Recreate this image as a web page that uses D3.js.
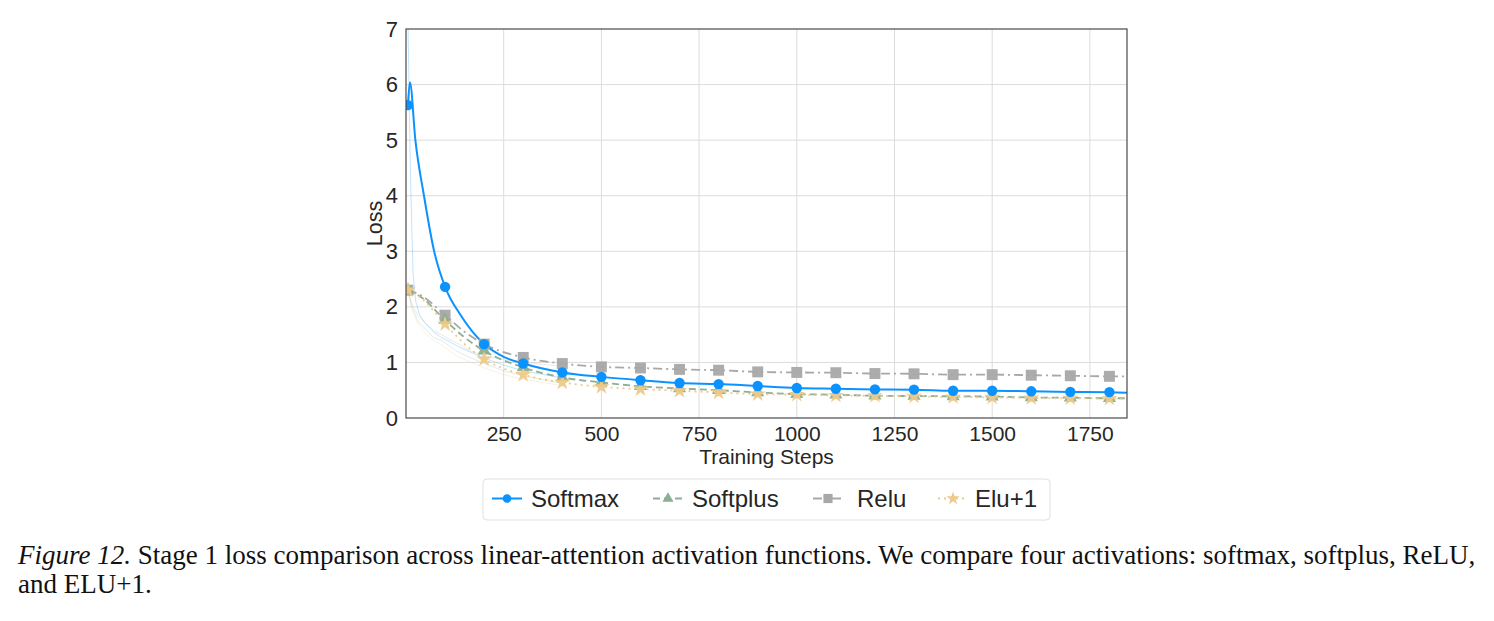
<!DOCTYPE html>
<html><head><meta charset="utf-8">
<script src="https://cdn.jsdelivr.net/npm/d3@7"></script>
<style>body{margin:0;background:#fff;} svg{display:block;}</style>
</head><body>
<svg id="c" width="1494" height="621"></svg>
<script>
// ---- data ----
const seriesNames = ["Softmax", "Softplus", "Relu", "Elu+1"];
const markerSteps = [5, 100, 200, 300, 400, 500, 600, 700, 800, 900, 1000, 1100, 1200, 1300, 1400, 1500, 1600, 1700, 1800];
// smoothed curves: steps and values
const softmaxSteps = [5, 10, 24, 46, 72, 100, 140, 200, 250, 300, 400, 500, 600, 700, 800, 900, 1000, 1100, 1200, 1300, 1400, 1500, 1600, 1700, 1800, 1845];
const softmaxVals  = [5.63, 6.04, 5.0, 4.0, 3.0, 2.36, 1.85, 1.33, 1.1, 0.98, 0.82, 0.74, 0.68, 0.63, 0.61, 0.575, 0.54, 0.527, 0.515, 0.51, 0.49, 0.49, 0.48, 0.47, 0.465, 0.455];
const curveSteps = [5, 40, 100, 150, 200, 300, 400, 500, 600, 700, 800, 900, 1000, 1100, 1200, 1300, 1400, 1500, 1600, 1700, 1800, 1845];
const softplusVals = [2.3, 2.17, 1.76, 1.45, 1.21, 0.91, 0.73, 0.64, 0.57, 0.53, 0.50, 0.46, 0.43, 0.42, 0.40, 0.395, 0.39, 0.385, 0.37, 0.365, 0.355, 0.355];
const reluVals     = [2.3, 2.2, 1.85, 1.55, 1.33, 1.09, 0.98, 0.92, 0.90, 0.875, 0.86, 0.83, 0.82, 0.815, 0.80, 0.795, 0.78, 0.78, 0.77, 0.76, 0.75, 0.75];
const eluVals      = [2.3, 2.15, 1.69, 1.33, 1.06, 0.78, 0.64, 0.56, 0.52, 0.49, 0.46, 0.43, 0.42, 0.405, 0.40, 0.39, 0.378, 0.37, 0.36, 0.355, 0.35, 0.35];
// faint raw curves (early part visible)
const rawSoftmaxSteps = [2, 5, 8, 12, 18, 25, 35, 50, 70, 90, 110, 130, 160, 200, 250, 300, 400];
const rawSoftmaxVals  = [7.6, 7.2, 5.8, 4.2, 2.6, 2.1, 1.85, 1.7, 1.55, 1.45, 1.38, 1.3, 1.2, 1.08, 0.95, 0.85, 0.72];
const rawSteps = [5, 15, 30, 50, 70, 90, 110, 130, 160, 200, 250, 300, 400];
const rawSoftplus = [2.3, 2.0, 1.75, 1.6, 1.45, 1.4, 1.3, 1.2, 1.1, 0.98, 0.85, 0.76, 0.62];
const rawRelu     = [2.3, 2.05, 1.85, 1.7, 1.58, 1.5, 1.42, 1.35, 1.22, 1.12, 1.05, 1.0, 0.93];
const rawElu      = [2.3, 1.95, 1.7, 1.52, 1.4, 1.32, 1.22, 1.12, 1.02, 0.9, 0.78, 0.7, 0.58];
const xTicks = [250, 500, 750, 1000, 1250, 1500, 1750];
const yTicks = [0, 1, 2, 3, 4, 5, 6, 7];
const colors = ["#0A92FF", "#8AAF95", "#A8A8A8", "#EEC98A"];

// ---- layout ----
const svg = d3.select("#c");
const L = 406, R = 1127, T = 29, B = 418;
const x = d3.scaleLinear().domain([0, 1845]).range([L, R]);
const y = d3.scaleLinear().domain([0, 7]).range([B, T]);
const font = "'Liberation Sans', Arial, sans-serif";

svg.append("defs").append("clipPath").attr("id", "clip")
  .append("rect").attr("x", L).attr("y", T).attr("width", R - L).attr("height", B - T);

// grid
const g = svg.append("g");
g.selectAll(".vg").data(xTicks).enter().append("line")
  .attr("x1", d => x(d)).attr("x2", d => x(d)).attr("y1", T).attr("y2", B)
  .attr("stroke", "#dcdcdc").attr("stroke-width", 1);
g.selectAll(".hg").data(yTicks.slice(1, -1)).enter().append("line")
  .attr("x1", L).attr("x2", R).attr("y1", d => y(d)).attr("y2", d => y(d))
  .attr("stroke", "#dcdcdc").attr("stroke-width", 1);

// axes (labels only)
const xAxis = svg.append("g").attr("transform", `translate(0,${B})`)
  .call(d3.axisBottom(x).tickValues(xTicks).tickSize(0).tickPadding(8).tickFormat(d3.format("d")));
xAxis.select(".domain").remove();
xAxis.selectAll("text").attr("font-family", font).attr("font-size", 21).attr("fill", "#262626");
const yAxis = svg.append("g").attr("transform", `translate(${L},0)`)
  .call(d3.axisLeft(y).tickValues(yTicks).tickSize(0).tickPadding(8).tickFormat(d3.format("d")));
yAxis.select(".domain").remove();
yAxis.selectAll("text").attr("font-family", font).attr("font-size", 22).attr("fill", "#262626");

svg.append("text").attr("x", (L + R) / 2).attr("y", 464).attr("text-anchor", "middle")
  .attr("font-family", font).attr("font-size", 21).attr("fill", "#262626").text("Training Steps");
svg.append("text").attr("transform", `translate(382,${(T + B) / 2}) rotate(-90)`).attr("text-anchor", "middle")
  .attr("font-family", font).attr("font-size", 21.5).attr("fill", "#262626").text("Loss");

// lines
const plot = svg.append("g").attr("clip-path", "url(#clip)");
const line = d3.line().x(d => x(d[0])).y(d => y(d[1])).curve(d3.curveMonotoneX);
const rawLine = d3.line().x(d => x(d[0])).y(d => y(d[1])).curve(d3.curveLinear);

const raws = [
  d3.zip(rawSoftmaxSteps, rawSoftmaxVals),
  d3.zip(rawSteps, rawSoftplus),
  d3.zip(rawSteps, rawRelu),
  d3.zip(rawSteps, rawElu)
];
raws.forEach((r, i) => {
  plot.append("path").attr("d", rawLine(r)).attr("fill", "none")
    .attr("stroke", colors[i]).attr("stroke-width", 1).attr("stroke-opacity", 0.25);
});

const curves = [
  d3.zip(softmaxSteps, softmaxVals),
  d3.zip(curveSteps, softplusVals),
  d3.zip(curveSteps, reluVals),
  d3.zip(curveSteps, eluVals)
];
const dashes = [null, "7,4", "9,4,2,4", "2,4"];
const order = [2, 1, 3, 0];
order.forEach(i => {
  plot.append("path").attr("d", line(curves[i])).attr("fill", "none")
    .attr("stroke", colors[i]).attr("stroke-width", i === 0 ? 2 : 1.8)
    .attr("stroke-dasharray", dashes[i]);
});

// markers
const symbols = [d3.symbolCircle, d3.symbolTriangle, d3.symbolSquare, d3.symbolStar];
const sizes = [85, 75, 120, 80];
function valAt(i, s) {
  const c = curves[i];
  const idx = c.findIndex(p => p[0] === s);
  return idx >= 0 ? c[idx][1] : null;
}
order.forEach(i => {
  const pts = markerSteps.map(s => [s, valAt(i, s)]).filter(p => p[1] !== null);
  plot.selectAll(null).data(pts).enter().append("path")
    .attr("d", d3.symbol().type(symbols[i]).size(sizes[i]))
    .attr("transform", d => `translate(${x(d[0])},${y(d[1])})`)
    .attr("fill", colors[i]).attr("fill-opacity", i === 0 ? 1 : 0.95);
});

// frame
svg.append("rect").attr("x", L).attr("y", T).attr("width", R - L).attr("height", B - T)
  .attr("fill", "none").attr("stroke", "#4a4a4a").attr("stroke-width", 1.2);

// legend
const leg = svg.append("g");
leg.append("rect").attr("x", 483).attr("y", 479).attr("width", 567).attr("height", 41).attr("rx", 4)
  .attr("fill", "#fff").attr("stroke", "#e0e0e0").attr("stroke-width", 1);
const legX = [492, 653, 813, 938];
const legTextX = [531, 692, 857, 975];
seriesNames.forEach((n, i) => {
  const lx = legX[i], ly = 498.5;
  leg.append("line").attr("x1", lx).attr("x2", lx + 30).attr("y1", ly).attr("y2", ly)
    .attr("stroke", colors[i]).attr("stroke-width", i === 0 ? 2 : 1.8).attr("stroke-dasharray", dashes[i]);
  leg.append("path").attr("d", d3.symbol().type(symbols[i]).size(sizes[i] * 0.7))
    .attr("transform", `translate(${lx + 15},${ly})`).attr("fill", colors[i]);
  leg.append("text").attr("x", legTextX[i]).attr("y", ly + 8.5).attr("font-family", font)
    .attr("font-size", 24).attr("fill", "#262626").text(n);
});

// caption
const serif = "'Liberation Serif', 'Times New Roman', serif";
const cap = svg.append("text").attr("x", 18).attr("y", 564).attr("font-family", serif).attr("font-size", 27).attr("fill", "#111");
cap.append("tspan").attr("font-style", "italic").text("Figure 12.");
cap.append("tspan").text(" Stage 1 loss comparison across linear-attention activation functions. We compare four activations: softmax, softplus, ReLU,");
svg.append("text").attr("x", 18).attr("y", 593).attr("font-family", serif).attr("font-size", 27).attr("fill", "#111").text("and ELU+1.");
</script>
</body></html>
